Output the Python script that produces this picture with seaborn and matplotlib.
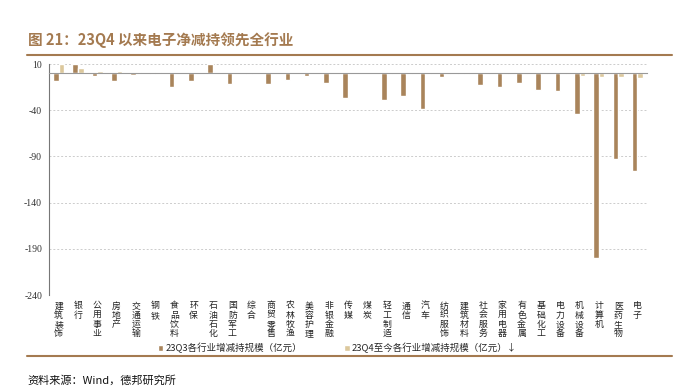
import matplotlib
matplotlib.use("Agg")
import matplotlib.pyplot as plt
import matplotlib.transforms as mtransforms
import numpy as np
import pandas as pd
import seaborn as sns

industries = ["建筑装饰", "银行", "公用事业", "房地产", "交通运输", "钢铁", "食品饮料",
              "环保", "石油石化", "国防军工", "综合", "商贸零售", "农林牧渔", "美容护理",
              "非银金融", "传媒", "煤炭", "轻工制造", "通信", "汽车", "纺织服饰",
              "建筑材料", "社会服务", "家用电器", "有色金属", "基础化工", "电力设备",
              "机械设备", "计算机", "医药生物", "电子"]
q3_values = [-8.4, 10, -2.7, -8.0, -1.6, -0.3, -15.3, -8.0, 10, -11.7, -1.2, -12.0,
             -7.7, -3.0, -11.0, -26.5, -0.2, -29.4, -24.7, -38.4, -4.1, -0.9, -12.8,
             -14.6, -10.6, -17.8, -19.6, -43.8, -200.3, -92.5, -105.8]
q4_values = [10, 5.3, 2.4, 2.4, 1.3, 1.3, 0.8, 0.8, 0.5, 0.6, 0.5, 0.4, 0.3, 0.3, 0.3,
             0.3, 0.2, -0.3, -0.3, -0.3, -0.3, -0.3, -0.3, -0.4, -0.4, -0.5, -0.9,
             -2.7, -4.1, -4.1, -5.5]
series_names = ["23Q3各行业增减持规模（亿元）", "23Q4至今各行业增减持规模（亿元）↓"]
series_colors = ["#a9845b", "#dcc89c"]
y_ticks = [10, -40, -90, -140, -190, -240]

TITLE = "图 21：23Q4 以来电子净减持领先全行业"
SOURCE = "资料来源：Wind，德邦研究所"
BROWN = "#a47a50"

df = pd.DataFrame({"industry": industries, series_names[0]: q3_values,
                   series_names[1]: q4_values})
long_df = df.melt(id_vars="industry", var_name="series", value_name="value")

sns.set_style("white")
plt.rcParams["font.family"] = ["Noto Sans CJK SC", "DejaVu Sans"]

fig = plt.figure(figsize=(6.75, 3.91), dpi=100)
ax = fig.add_axes([0.0726, 0.2455, 0.886, 0.5908])

sns.barplot(data=long_df, x="industry", y="value", hue="series",
            palette=series_colors, width=0.58, saturation=1, ax=ax,
            order=industries, hue_order=series_names)

ax.set_ylim(y_ticks[-1], y_ticks[0])
ax.set_xlim(-0.5, len(industries) - 0.5)
ax.set_yticks(y_ticks)
ax.set_yticklabels([str(t) for t in y_ticks], family="Liberation Serif",
                   fontsize=7, color="#333333")
ax.tick_params(axis="y", length=3, width=0.6, color="#777777", pad=2)
for t in y_ticks:
    ax.axhline(t, color="#cccccc", lw=0.7, ls=(0, (2, 2)), zorder=0)

ax.set_xlabel("")
ax.set_ylabel("")
ax.set_xticks(range(len(industries)))
ax.set_xticklabels([])
ax.tick_params(axis="x", which="major", length=0)
ax.set_xticks(np.arange(0.5, len(industries)), minor=True)
ax.tick_params(axis="x", which="minor", length=3, width=0.6, color="#777777",
               direction="out")

for side in ["top", "right"]:
    ax.spines[side].set_visible(False)
ax.spines["bottom"].set_position(("data", 0))
ax.spines["bottom"].set_color("#999999")
ax.spines["bottom"].set_linewidth(0.8)
ax.spines["left"].set_color("#777777")
ax.spines["left"].set_linewidth(0.8)

trans = mtransforms.blended_transform_factory(ax.transData, ax.transAxes)
for i, name in enumerate(industries):
    ax.text(i, -0.028, "\n".join(name), transform=trans, ha="center", va="top",
            fontsize=6.4, linespacing=1.03, color="#222222")

handles, labels = ax.get_legend_handles_labels()
ax.get_legend().remove()
fig.legend(handles, labels, loc="center", bbox_to_anchor=(0.5, 0.11), ncol=2,
           frameon=False, fontsize=6.8, handlelength=0.6, handleheight=0.6,
           handletextpad=0.2, columnspacing=4.5)

fig.text(0.041, 0.898, TITLE, fontsize=10.5, fontweight="bold", color=BROWN,
         va="center", ha="left")
fig.add_artist(plt.Line2D([0.04, 0.996], [0.859, 0.859], color=BROWN, lw=1.5))
fig.add_artist(plt.Line2D([0.04, 0.996], [0.0895, 0.0895], color=BROWN, lw=1.5))
fig.text(0.041, 0.028, SOURCE, fontsize=8, color="#111111", va="center", ha="left")

fig.savefig("out.png", dpi=100)
